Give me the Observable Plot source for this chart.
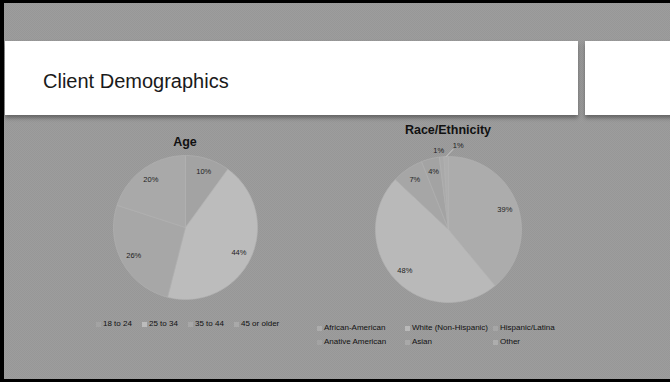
<!DOCTYPE html>
<html>
<head>
<meta charset="utf-8">
<script src="https://cdn.jsdelivr.net/npm/d3@7"></script>
<script src="https://cdn.jsdelivr.net/npm/@observablehq/plot@0.6"></script>
<style>
  body { margin: 0; }
  #page { position: relative; width: 670px; height: 382px; overflow: hidden;
    background: #9a9a9a;
    background-image: repeating-conic-gradient(#9d9d9d 0 25%, #979797 0 50%);
    background-size: 2px 2px;
    font-family: "Liberation Sans", Arial, sans-serif; }
  .bar { position: absolute; background: #000; }
  .box { position: absolute; background: #fff; top: 41px; height: 74px;
    box-shadow: 0 3px 4px rgba(0,0,0,0.35); }
  #title { position: absolute; left: 43px; top: 69px; font-size: 20px; color: #1a1a1a;
    font-family: "Liberation Sans", Arial, sans-serif; line-height: 24px; }
  .ctitle { position: absolute; font-weight: bold; color: #111; font-size: 12.5px;
    transform: translateX(-50%); white-space: nowrap; line-height: 14px; }
  .plot { position: absolute; }
  .legend { position: absolute; display: grid; font-size: 8px; color: #111; line-height: 14px; }
  .legend .item { display: flex; align-items: center; white-space: nowrap; }
  .legend .sw { width: 5px; height: 5px; margin-right: 2px; display: inline-block; }
</style>
</head>
<body>
<div id="page">
  <div class="box" style="left:5px;width:573px;"></div>
  <div class="box" style="left:585px;width:90px;"></div>
  <div id="title">Client Demographics</div>
  <div class="bar" style="left:0;top:0;width:670px;height:3px;"></div>
  <div class="bar" style="left:0;top:0;width:4px;height:382px;"></div>
  <div class="bar" style="left:0;top:379px;width:670px;height:3px;"></div>
  <div class="ctitle" style="left:185px;top:135px;">Age</div>
  <div class="ctitle" style="left:448px;top:123px;">Race/Ethnicity</div>
  <div id="agePie" class="plot" style="left:85px;top:137px;"></div>
  <div id="racePie" class="plot" style="left:348px;top:139px;"></div>
  <div id="ageLegend" class="legend" style="left:96px;top:317px;grid-template-columns:46px 46px 46px auto;"></div>
  <div id="raceLegend" class="legend" style="left:317px;top:321px;grid-template-columns:88px 88px auto;"></div>
</div>
<script>
// ---- data ----
const ageLabels = ["18 to 24", "25 to 34", "35 to 44", "45 or older"];
const ageValues = [10, 44, 26, 20];
const raceLabels = ["African-American", "White (Non-Hispanic)", "Hispanic/Latina", "Anative American", "Asian", "Other"];
const raceValues = [39, 48, 7, 4, 1, 1];

// ---- styles ----
const agePalette = ["#a3a3a3", "#bcbcbc", "#a7a7a7", "#a9a9a9"];
const racePalette = ["#acacac", "#b9b9b9", "#a6a6a6", "#a3a3a3", "#a9a9a9", "#adadad"];

function pie(el, labels, values, palette, R, W, H) {
  const total = d3.sum(values);
  let acc = 0;
  const slices = values.map((v, i) => {
    const a0 = acc / total * 2 * Math.PI; acc += v;
    const a1 = acc / total * 2 * Math.PI;
    return {label: labels[i], value: v, a0, a1, mid: (a0 + a1) / 2};
  });
  const pts = slices.flatMap(s => {
    const n = Math.max(2, Math.ceil((s.a1 - s.a0) / (Math.PI / 180)));
    const arr = [{k: s.label, x: 0, y: 0}];
    for (let j = 0; j <= n; j++) {
      const a = s.a0 + (s.a1 - s.a0) * j / n;
      arr.push({k: s.label, x: Math.sin(a), y: Math.cos(a)});
    }
    arr.push({k: s.label, x: 0, y: 0});
    return arr;
  });
  let small = 0;
  const lbl = [], leaders = [];
  slices.forEach(s => {
    const pct = Math.round(s.value / total * 100) + "%";
    if (s.value / total < 0.02) {
      if (small === 0) {
        lbl.push({x: Math.sin(s.mid) * 1.1 - 0.03, y: Math.cos(s.mid) * 1.1 - 0.02, t: pct});
      } else {
        const lx = Math.sin(s.mid) * 1.14 + 0.17, ly = Math.cos(s.mid) * 1.14 + 0.01;
        lbl.push({x: lx, y: ly, t: pct});
        leaders.push({x1: Math.sin(s.mid), y1: Math.cos(s.mid), x2: lx - 0.07, y2: ly - 0.05});
      }
      small++;
    } else {
      lbl.push({x: Math.sin(s.mid) * 0.82, y: Math.cos(s.mid) * 0.82, t: pct});
    }
  });
  const chart = Plot.plot({
    width: W, height: H, margin: 0,
    style: {background: "transparent", overflow: "visible"},
    x: {domain: [-W / 2 / R, W / 2 / R], axis: null},
    y: {domain: [-H / 2 / R, H / 2 / R], axis: null},
    color: {domain: labels, range: palette},
    marks: [
      Plot.line(pts, {x: "x", y: "y", z: "k", fill: "k", stroke: "#b3b3b3", strokeWidth: 0.6, curve: "linear"}),
      Plot.link(leaders, {x1: "x1", y1: "y1", x2: "x2", y2: "y2", stroke: "#e0e0e0", strokeWidth: 0.7}),
      Plot.text(lbl, {x: "x", y: "y", text: "t", fontSize: 7.5, fill: "#222", fontFamily: "Liberation Sans, Arial, sans-serif"})
    ]
  });
  document.getElementById(el).appendChild(chart);
}

function legend(el, labels, palette) {
  const box = document.getElementById(el);
  labels.forEach((l, i) => {
    const d = document.createElement("div");
    d.className = "item";
    d.innerHTML = `<span class="sw" style="background:${palette[i]}"></span>${l}`;
    box.appendChild(d);
  });
}

pie("agePie", ageLabels, ageValues, agePalette, 72, 200, 180);
pie("racePie", raceLabels, raceValues, racePalette, 73, 200, 180);
legend("ageLegend", ageLabels, agePalette);
legend("raceLegend", raceLabels, racePalette);
</script>
</body>
</html>
